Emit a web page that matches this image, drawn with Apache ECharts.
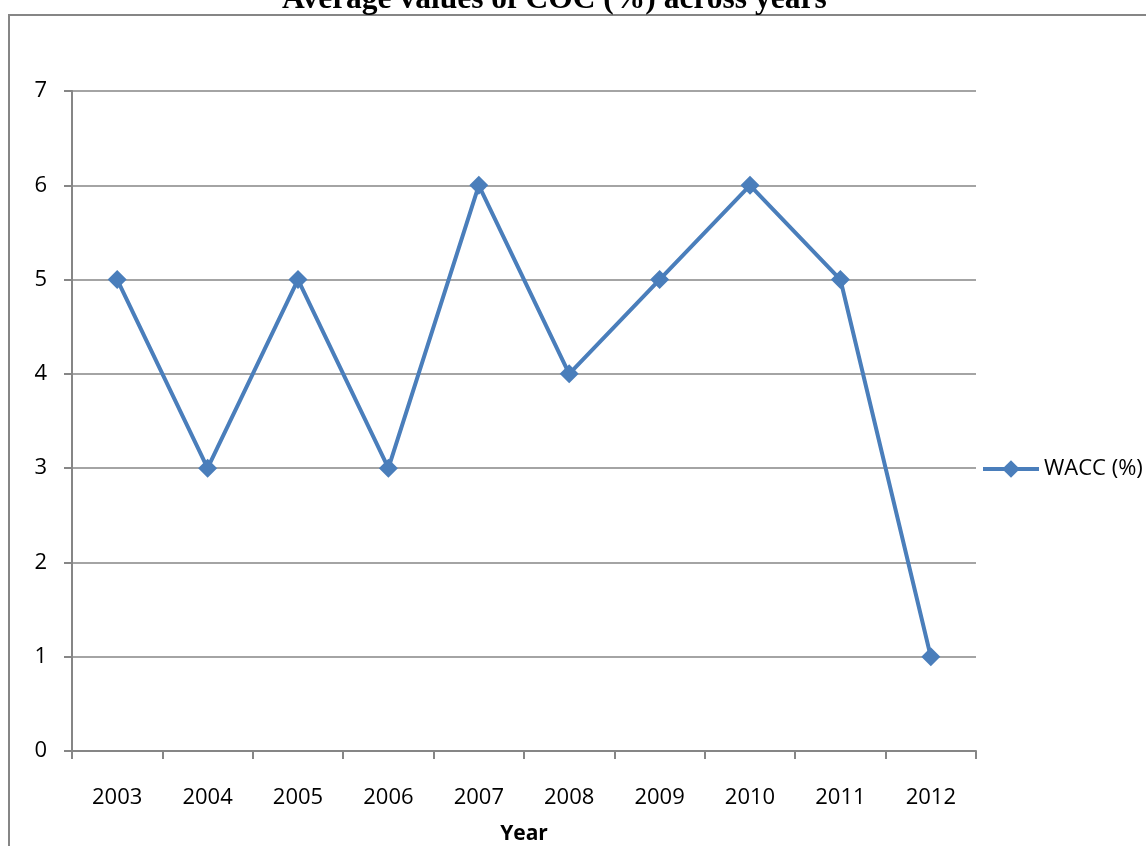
<!DOCTYPE html>
<html>
<head>
<meta charset="utf-8">
<script src="https://cdn.jsdelivr.net/npm/echarts@6/dist/echarts.min.js"></script>
<style>
  html, body { margin: 0; padding: 0; background: #fff; }
  #chart { width: 1146px; height: 846px; }
</style>
</head>
<body>
<div id="chart"></div>
<script>
// data
const years = ['2003', '2004', '2005', '2006', '2007', '2008', '2009', '2010', '2011', '2012'];
const wacc = [5, 3, 5, 3, 6, 4, 5, 6, 5, 1];
const seriesName = 'WACC (%)';

const grey = '#868686';
const blue = '#4A7EBB';
const labelFont = '"Open Sans", "Liberation Sans", sans-serif';

var myChart = echarts.init(document.getElementById('chart'));
const option = {
    animation: false,
    title: {
        text: 'Average values of COC (%) across years',
        left: 282,
        top: -16,
        padding: 0,
        textStyle: {
            fontFamily: '"Liberation Serif", "Times New Roman", serif',
            fontWeight: 'bold',
            fontSize: 31.5,
            color: '#000'
        }
    },
    graphic: [{
        type: 'rect',
        shape: { x: 9, y: 15, width: 1200, height: 900 },
        style: { fill: 'none', stroke: grey, lineWidth: 2 },
        silent: true
    }],
    // keep the plot where the reference has it; labels may sit near the edge
    grid: { left: 72, right: 170, top: 91, bottom: 95, outerBoundsMode: 'none' },
    legend: {
        left: 976,
        top: 453,
        itemWidth: 56,
        itemHeight: 22,
        itemGap: 4,
        lineStyle: { width: 4 },
        textStyle: { fontFamily: labelFont, fontSize: 22, color: '#000' },
        data: [seriesName]
    },
    xAxis: {
        type: 'category',
        data: years,
        boundaryGap: true,
        name: 'Year',
        nameLocation: 'middle',
        nameGap: 73,
        nameTextStyle: { fontFamily: labelFont, fontSize: 21, fontWeight: 'bold', color: '#000' },
        axisLine: { lineStyle: { color: grey, width: 2 } },
        axisTick: { show: true, length: 8, lineStyle: { color: grey, width: 2 } },
        axisLabel: { fontFamily: labelFont, fontSize: 22, color: '#000', margin: 36 },
        splitLine: { show: false }
    },
    yAxis: {
        type: 'value',
        min: 0,
        max: 7,
        interval: 1,
        axisLine: { show: true, lineStyle: { color: grey, width: 2 } },
        axisTick: { show: true, length: 8, lineStyle: { color: grey, width: 2 } },
        axisLabel: { fontFamily: labelFont, fontSize: 22, color: '#000', margin: 25 },
        splitLine: { show: true, lineStyle: { color: grey, width: 1.5 } }
    },
    series: [{
        name: seriesName,
        type: 'line',
        data: wacc,
        symbol: 'diamond',
        symbolSize: 19,
        color: blue,
        lineStyle: { color: blue, width: 4 },
        itemStyle: { color: blue }
    }]
};
myChart.setOption(option);
</script>
</body>
</html>
